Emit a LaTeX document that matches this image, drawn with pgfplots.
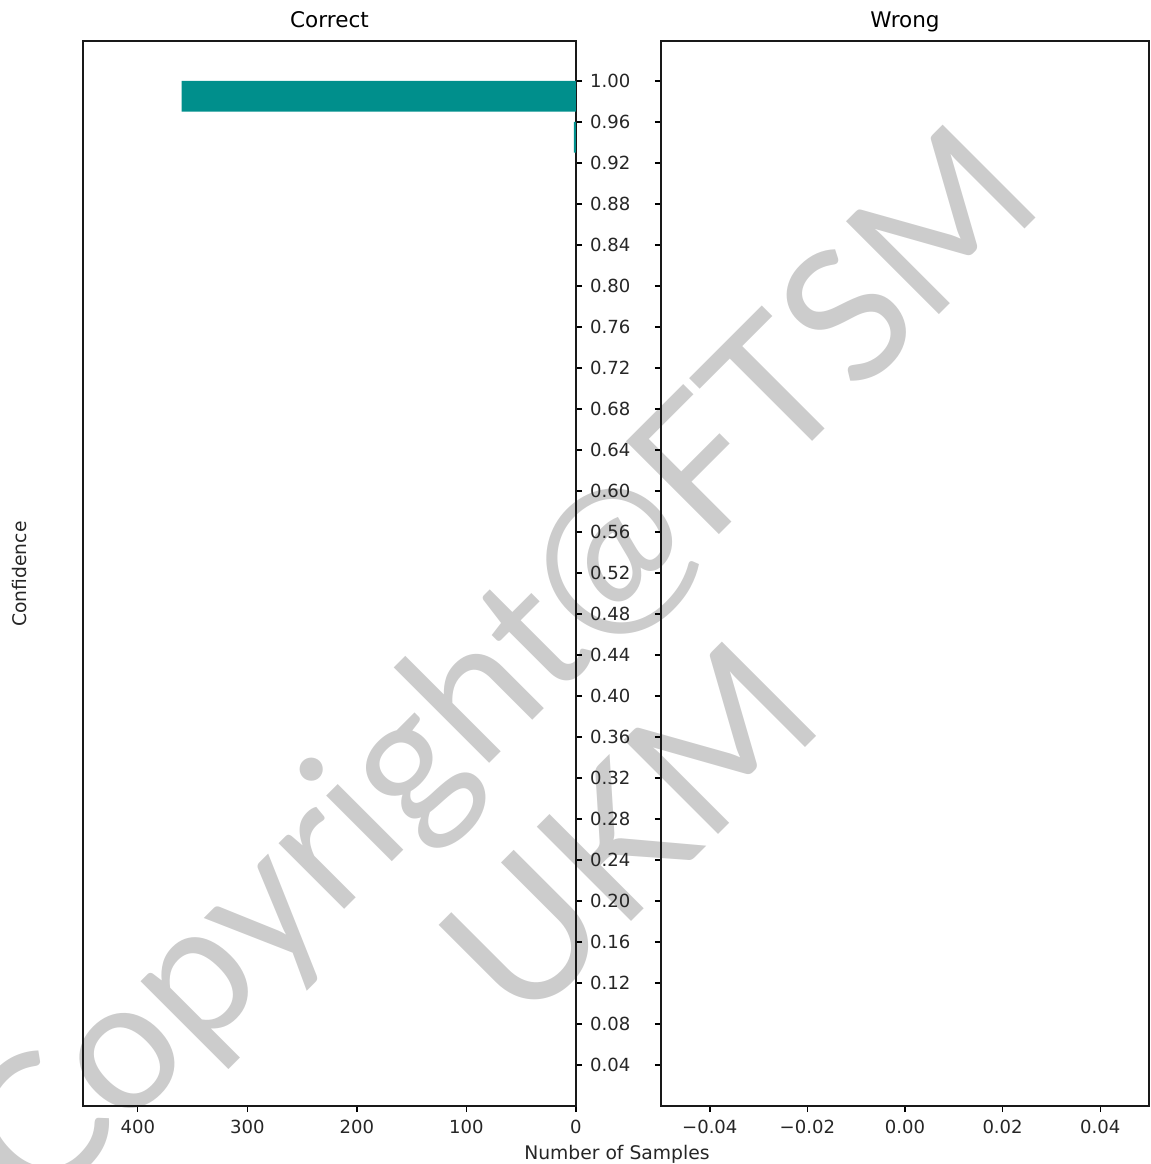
\documentclass[border=0pt]{standalone}
\usepackage{pgfplots}
\pgfplotsset{compat=1.18}
\usepackage{fontspec}
\setmainfont{DejaVu Sans}
\newfontfamily\wmfont{Lato}
\definecolor{barteal}{RGB}{0,143,140}
\definecolor{wmgray}{RGB}{204,204,204}
\pgfplotsset{
  panel/.style={
    scale only axis,
    anchor=south west,
    height=766.8pt,
    ymin=0, ymax=1.039,
    ytick={0.04,0.08,0.12,0.16,0.20,0.24,0.28,0.32,0.36,0.40,0.44,0.48,0.52,0.56,0.60,0.64,0.68,0.72,0.76,0.80,0.84,0.88,0.92,0.96,1.00},
    tick align=outside,
    major tick length=4.5pt,
    tick style={line width=1pt, black},
    axis line style={line width=1pt, black!90},
    xtick pos=bottom,
    scaled x ticks=false,
    scaled y ticks=false,
    ticklabel style={font=\fontsize{13}{15}\selectfont, inner sep=4pt, text=black!85},
    xticklabel style={yshift=-1.5pt},
    yticklabel style={xshift=1.5pt},
    /pgf/number format/assume math mode=true,
    title style={font=\fontsize{15.5}{18}\selectfont, at={(0.5,1)}, anchor=base, yshift=3.6pt},
  }
}
\begin{document}
\begin{tikzpicture}
\useasboundingbox (0,0) rectangle (828pt,838.08pt);
% watermark
\node[text=wmgray, rotate=45, font=\wmfont\fontsize{132}{132}\selectfont] at (365pt,352pt) {Copyright@FTSM};
\node[text=wmgray, rotate=45, font=\wmfont\fontsize{134}{134}\selectfont] at (453pt,240pt) {UKM};

\begin{axis}[panel,
  at={(59.76pt,41.76pt)},
  width=354.96pt,
  xmin=0, xmax=450, x dir=reverse,
  xtick={0,100,200,300,400},
  ytick pos=right, yticklabel pos=right,
  yticklabel style={/pgf/number format/.cd, fixed, fixed zerofill, precision=2},
  title={Correct},
]
\addplot[xbar, fill=barteal, draw=none, bar width=0.03, bar shift=0pt] coordinates {(360,0.985) (2,0.945)};
\end{axis}

\begin{axis}[panel,
  at={(475.92pt,41.76pt)},
  width=351.36pt,
  xmin=-0.05, xmax=0.05,
  xtick={-0.04,-0.02,0,0.02,0.04},
  xticklabels={−0.04,−0.02,0.00,0.02,0.04},
  ytick pos=left, yticklabels={},
  title={Wrong},
]
\end{axis}

\node[anchor=base, font=\fontsize{13.5}{16}\selectfont, text=black!85] at (444.2pt,2.9pt) {Number of Samples};
\node[rotate=90, font=\fontsize{13.5}{16}\selectfont, text=black!85] at (14.4pt,424.8pt) {Confidence};
\end{tikzpicture}
\end{document}
